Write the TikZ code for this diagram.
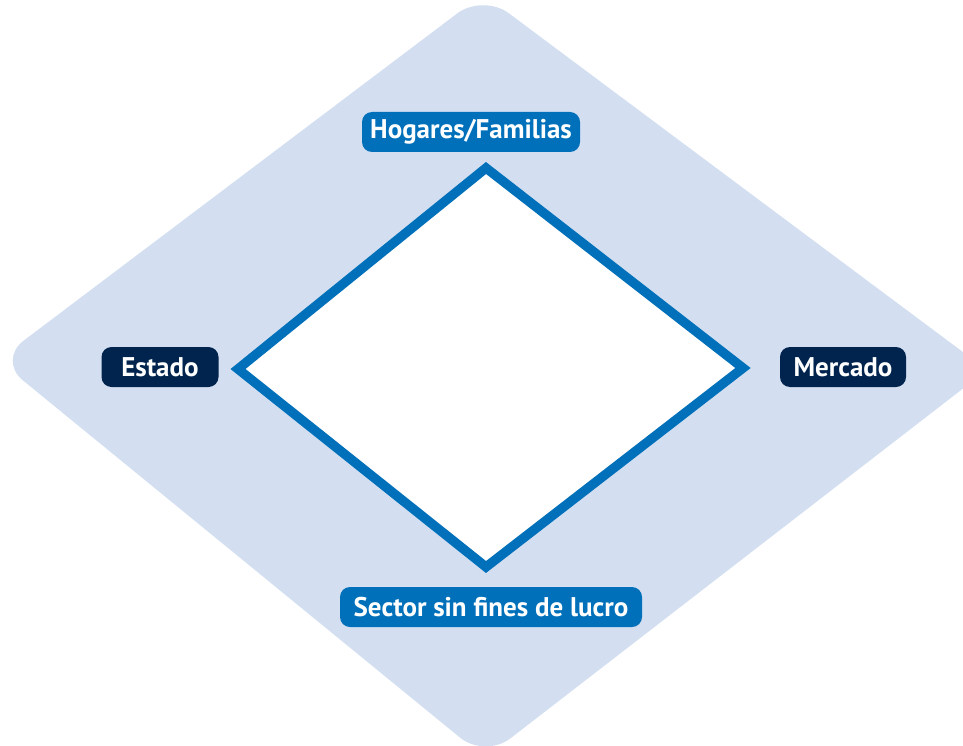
\documentclass[tikz,border=0pt]{standalone}
\usepackage{fontspec}
\setmainfont{PT Sans}
\definecolor{bgblue}{RGB}{211,223,241}
\definecolor{midblue}{RGB}{0,112,186}
\definecolor{navy}{RGB}{0,36,77}
\tikzset{
  lab/.style={rounded corners=10pt, text=white, font=\bfseries\fontsize{27}{30}\selectfont,
    minimum height=40pt, inner xsep=0pt, inner ysep=0pt, anchor=center},
  labblue/.style={lab, fill=midblue},
  labnavy/.style={lab, fill=navy},
}
\begin{document}
\begin{tikzpicture}[x=1pt,y=-1pt]
\useasboundingbox (0,0) rectangle (963,746);
\begin{scope}
\clip (0,0) rectangle (963,746);
\fill[bgblue, rounded corners=32pt] (483,-6) -- (987,370) -- (485,758) -- (-2,360) -- cycle;
\end{scope}
\coordinate (t) at (486,168);
\coordinate (r) at (743,368);
\coordinate (b) at (486,567);
\coordinate (l) at (238,369);
\draw[line width=9.4pt, midblue, fill=white] (t) -- (r) -- (b) -- (l) -- cycle;
\node[labblue, minimum width=218pt] (hog) at (471,132) {Hogares/Familias};
\node[labnavy, minimum width=117pt] (est) at (160,367) {Estado};
\node[labnavy, minimum width=126pt] (mer) at (843,367) {Mercado};
\node[labblue, minimum width=302pt] (sec) at (491,607) {Sector sin fines de lucro};
\end{tikzpicture}
\end{document}
